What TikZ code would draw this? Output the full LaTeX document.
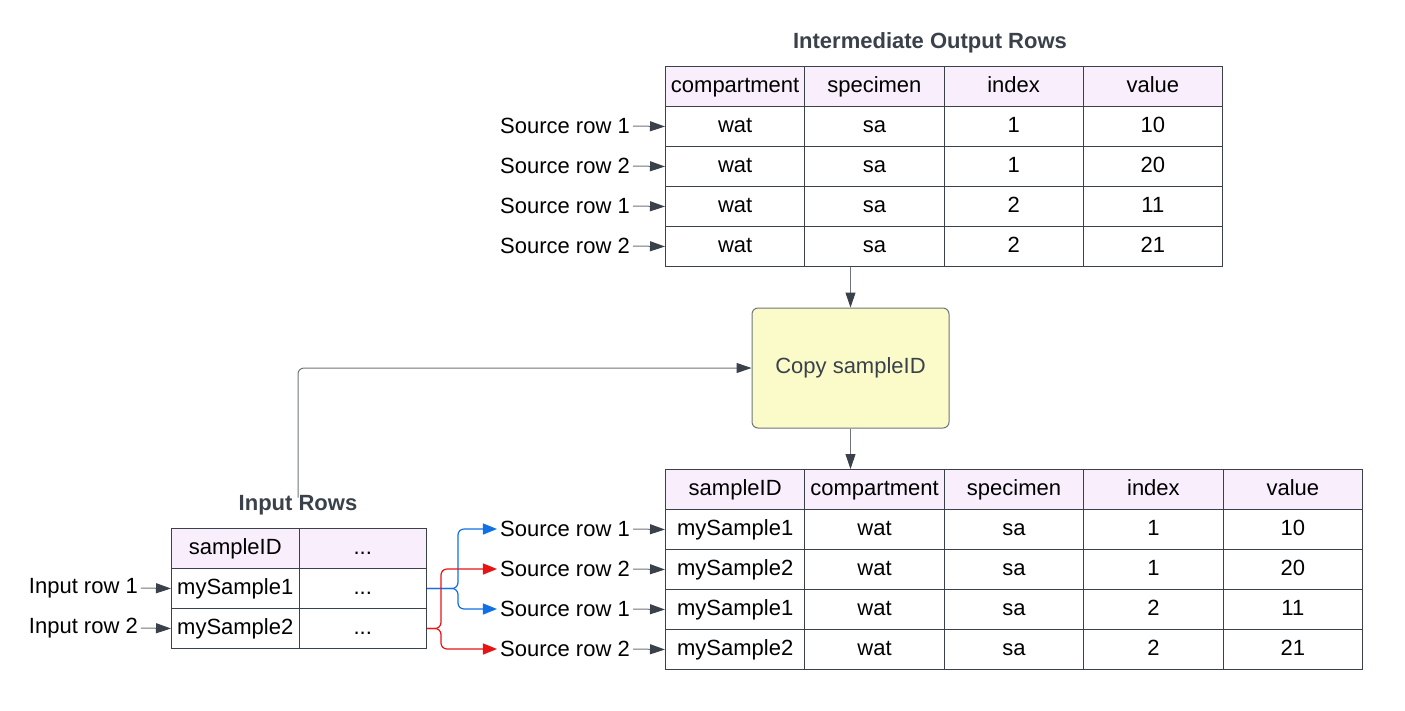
\documentclass[tikz,border=0pt]{standalone}
\usepackage{fontspec}
\setmainfont{Liberation Sans}
\usetikzlibrary{arrows.meta,calc}
\definecolor{ink}{HTML}{3A414A}
\definecolor{hdr}{HTML}{F8EEFC}
\definecolor{note}{HTML}{FBFBC9}
\definecolor{lnk}{HTML}{6F747A}
\definecolor{bl}{HTML}{1071E5}
\definecolor{rd}{HTML}{E81313}
\begin{document}
\begin{tikzpicture}[x=1pt,y=-1pt,
  txt/.style={font=\fontsize{22}{26}\selectfont},
  cell/.style={txt, draw=ink, line width=1pt, minimum height=40pt, inner sep=0pt,
    anchor=north west, text=black, text height=15.5pt, text depth=4pt},
  hcell/.style={cell, fill=hdr},
  slabel/.style={txt, anchor=east, text=black, inner sep=3pt},
  ttl/.style={font=\fontsize{22}{26}\selectfont\bfseries, text=ink},
  darr/.style={draw=lnk, line width=1pt, -{Triangle[length=15pt,width=10pt,color=ink]}},
  barr/.style={draw=bl, line width=1.2pt, rounded corners=6pt, -{Triangle[length=14pt,width=11pt,color=bl]}},
  rarr/.style={draw=rd, line width=1.2pt, rounded corners=6pt, -{Triangle[length=14pt,width=11pt,color=rd]}}
]
\useasboundingbox (0,0) rectangle (1405,710);

% ---------- top table ----------
\node[ttl] (ttop) at (930,43) {Intermediate Output Rows};
\foreach \t [count=\c from 0] in {compartment,specimen,index,value}
  \node[hcell, minimum width=139.25pt] (T-0-\c) at ({665+139.25*\c},66) {\t};
\foreach \row [count=\r from 1] in {{wat,sa,1,10},{wat,sa,1,20},{wat,sa,2,11},{wat,sa,2,21}}
  \foreach \t [count=\c from 0] in \row
    \node[cell, minimum width=139.25pt] (T-\r-\c) at ({665+139.25*\c},{66+40*\r}) {\t};
\foreach \n/\l in {1/Source row 1,2/Source row 2,3/Source row 1,4/Source row 2} {
  \node[slabel] (TS\n) at (633,{86+40*\n}) {\l};
  \draw[darr] (TS\n.east) -- (T-\n-0.west);
}

% ---------- copy box ----------
\node[txt, draw=lnk, line width=1pt, fill=note, rounded corners=6pt, minimum width=197pt,
  minimum height=120pt, text=ink] (copy) at (850.5,368) {Copy sampleID};
\draw[darr] (copy.north |- T-4-1.south) -- (copy.north);

% ---------- bottom table ----------
\foreach \t [count=\c from 0] in {sampleID,compartment,specimen,index,value}
  \node[hcell, minimum width=139.4pt] (B-0-\c) at ({665+139.4*\c},469) {\t};
\foreach \row [count=\r from 1] in {{mySample1,wat,sa,1,10},{mySample2,wat,sa,1,20},{mySample1,wat,sa,2,11},{mySample2,wat,sa,2,21}}
  \foreach \t [count=\c from 0] in \row
    \node[cell, minimum width=139.4pt] (B-\r-\c) at ({665+139.4*\c},{469+40*\r}) {\t};
\foreach \n/\l in {1/Source row 1,2/Source row 2,3/Source row 1,4/Source row 2} {
  \node[slabel] (BS\n) at (633,{489+40*\n}) {\l};
  \draw[darr] (BS\n.east) -- (B-\n-0.west);
}
\draw[darr] (copy.south) -- (copy.south |- B-0-1.north);

% ---------- input table ----------
\node[ttl] (tin) at (298,505) {Input Rows};
\node[hcell, minimum width=127.5pt] (I-0-0) at (171,528) {sampleID};
\node[hcell, minimum width=127.5pt] (I-0-1) at (298.5,528) {...};
\node[cell, minimum width=127.5pt] (I-1-0) at (171,568) {mySample1};
\node[cell, minimum width=127.5pt] (I-1-1) at (298.5,568) {...};
\node[cell, minimum width=127.5pt] (I-2-0) at (171,608) {mySample2};
\node[cell, minimum width=127.5pt] (I-2-1) at (298.5,608) {...};
\node[slabel] (IL1) at (141,588) {Input row 1};
\node[slabel] (IL2) at (141,628) {Input row 2};
\draw[darr] (IL1.east) -- (I-1-0.west);
\draw[darr] (IL2.east) -- (I-2-0.west);
\draw[darr, rounded corners=6pt] ([yshift=-6pt]tin.north) |- (copy.west);

% ---------- fan-out ----------
\draw[barr] (I-1-1.east) -- ++(31,0) |- (BS1.west);
\draw[barr] (I-1-1.east) -- ++(31,0) |- (BS3.west);
\draw[rarr] (I-2-1.east) -- ++(14,0) |- (BS2.west);
\draw[rarr] (I-2-1.east) -- ++(14,0) |- (BS4.west);
\end{tikzpicture}
\end{document}
